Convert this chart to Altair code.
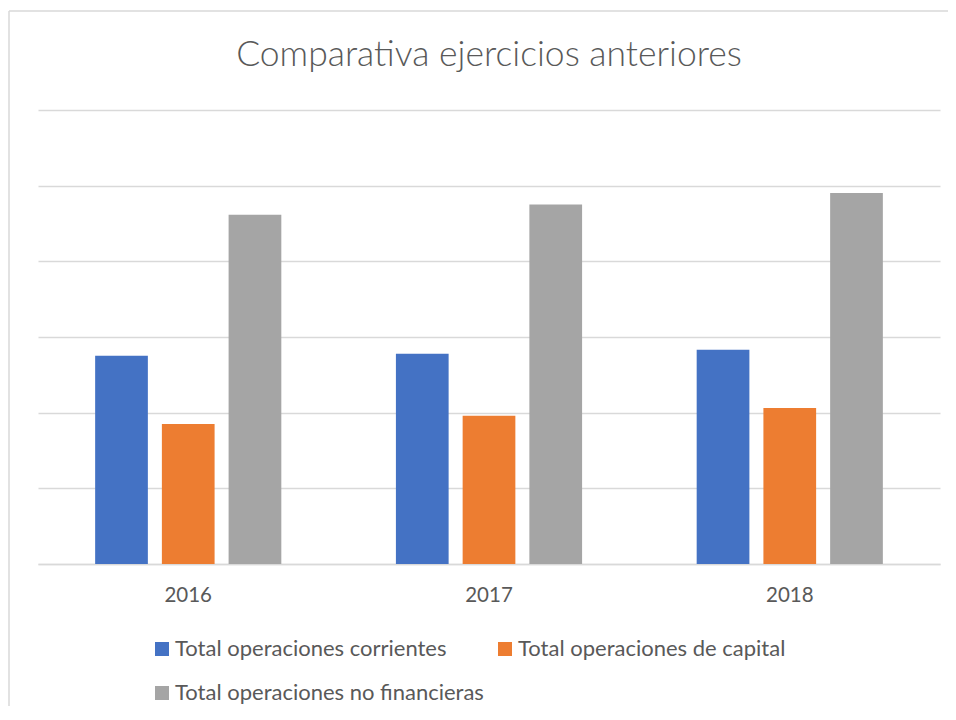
import altair as alt
import pandas as pd

title_text = "Comparativa ejercicios anteriores"
years = ["2016", "2017", "2018"]
series = [
    "Total operaciones corrientes",
    "Total operaciones de capital",
    "Total operaciones no financieras",
]
corrientes = [2.753, 2.780, 2.833]
capital = [1.851, 1.960, 2.062]
no_financieras = [4.617, 4.750, 4.904]
colors = ["#4472C4", "#ED7D31", "#A5A5A5"]
grid_values = [0, 1, 2, 3, 4, 5, 6]

rows = []
for i, yr in enumerate(years):
    for s, vals in zip(series, [corrientes, capital, no_financieras]):
        rows.append({"year": yr, "serie": s, "valor": vals[i]})
df = pd.DataFrame(rows)

FONT = "Lato"
TXT = "#595959"
GRID = "#D9D9D9"

one = alt.Data(values=[{}])
border_left = alt.Chart(one).mark_rule(stroke=GRID, strokeWidth=1.5).encode(
    x=alt.value(-29), y=alt.value(-99), y2=alt.value(640)
)
border_top = alt.Chart(one).mark_rule(stroke=GRID, strokeWidth=1.5).encode(
    x=alt.value(-29), x2=alt.value(960), y=alt.value(-99)
)

title = alt.Chart(alt.Data(values=[{"t": title_text}])).mark_text(
    font=FONT, fontSize=35.5, fontWeight=300, color=TXT,
    align="center", baseline="middle",
).encode(
    text="t:N", x=alt.value(451), y=alt.value(-55)
)

bars = alt.Chart(df).mark_bar().encode(
    x=alt.X(
        "year:N",
        sort=years,
        scale=alt.Scale(paddingInner=0.381, paddingOuter=0.19),
        axis=alt.Axis(
            title=None, labelAngle=0, ticks=False, domain=True,
            domainColor=GRID, domainWidth=1.5, labelPadding=21,
            labelFontSize=20.5, labelFont=FONT, labelColor=TXT, grid=False,
        ),
    ),
    xOffset=alt.XOffset(
        "serie:N", sort=series,
        scale=alt.Scale(domain=series, paddingInner=0.21, paddingOuter=0),
    ),
    y=alt.Y(
        "valor:Q",
        scale=alt.Scale(domain=[0, 6], nice=False),
        axis=alt.Axis(
            title=None, labels=False, ticks=False, domain=False,
            values=grid_values, grid=True, gridColor=GRID, gridWidth=1.5,
        ),
    ),
    color=alt.Color(
        "serie:N",
        scale=alt.Scale(domain=series, range=colors),
        legend=alt.Legend(
            title=None, orient="none", legendX=113, legendY=528,
            direction="horizontal", columns=2, symbolType="square",
            symbolSize=196, symbolStrokeWidth=0, labelFont=FONT,
            labelFontSize=22, labelColor=TXT, labelOffset=2,
            columnPadding=10, rowPadding=22, labelLimit=500,
        ),
    ),
)

chart = alt.layer(border_left, border_top, title, bars).properties(
    width=902,
    height=454,
    padding={"left": 30, "top": 102, "right": 8, "bottom": 142},
    autosize=alt.AutoSizeParams(type="none"),
).configure_view(stroke=None)

chart.save("out.html", embed_options={"renderer": "svg", "actions": False})
